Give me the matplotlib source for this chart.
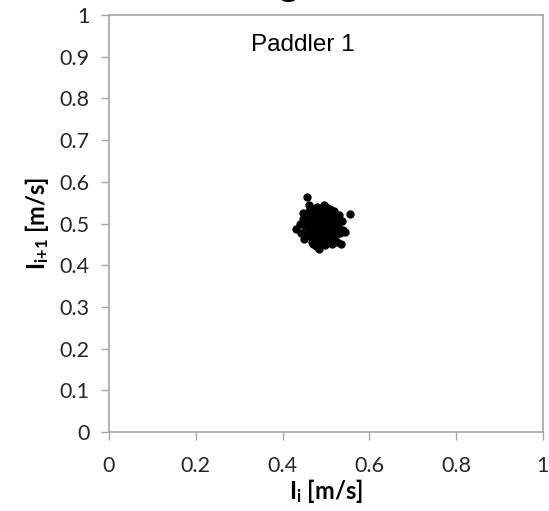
import numpy as np
import matplotlib
matplotlib.use("Agg")
import matplotlib.pyplot as plt

plt.rcParams['mathtext.fontset'] = 'custom'
plt.rcParams['mathtext.rm'] = 'Lato'
plt.rcParams['mathtext.bf'] = 'Lato:bold'
plt.rcParams['mathtext.it'] = 'Lato:italic'

# successive paddle speeds
speed_i = [0.457, 0.555, 0.432, 0.440, 0.442, 0.447, 0.450, 0.452, 0.455, 0.456,
           0.460, 0.461, 0.463, 0.465, 0.466, 0.468, 0.470, 0.471, 0.472, 0.474,
           0.475, 0.476, 0.478, 0.479, 0.480, 0.481, 0.482, 0.484, 0.485, 0.486,
           0.487, 0.488, 0.489, 0.490, 0.491, 0.492, 0.493, 0.494, 0.495, 0.496,
           0.497, 0.498, 0.499, 0.500, 0.501, 0.502, 0.503, 0.504, 0.505, 0.506,
           0.507, 0.508, 0.509, 0.510, 0.511, 0.512, 0.514, 0.515, 0.516, 0.518,
           0.519, 0.520, 0.522, 0.523, 0.525, 0.526, 0.528, 0.530, 0.532, 0.535,
           0.538, 0.540, 0.544, 0.470, 0.485, 0.500, 0.448, 0.462, 0.478, 0.495]
speed_next = [0.564, 0.523, 0.487, 0.500, 0.478, 0.512, 0.462, 0.495, 0.520, 0.478,
              0.505, 0.530, 0.470, 0.490, 0.515, 0.455, 0.500, 0.535, 0.482, 0.522,
              0.462, 0.508, 0.445, 0.492, 0.540, 0.515, 0.470, 0.500, 0.528, 0.485,
              0.455, 0.510, 0.495, 0.538, 0.476, 0.520, 0.505, 0.460, 0.490, 0.530,
              0.512, 0.448, 0.482, 0.500, 0.540, 0.470, 0.518, 0.492, 0.527, 0.458,
              0.505, 0.480, 0.535, 0.512, 0.465, 0.495, 0.522, 0.452, 0.488, 0.508,
              0.530, 0.470, 0.500, 0.515, 0.482, 0.455, 0.495, 0.520, 0.478, 0.450,
              0.505, 0.485, 0.480, 0.450, 0.440, 0.455, 0.525, 0.545, 0.528, 0.545]

xticks = [0, 0.2, 0.4, 0.6, 0.8, 1]
xtick_labels = ['0', '0.2', '0.4', '0.6', '0.8', '1']
yticks = [0, 0.1, 0.2, 0.3, 0.4, 0.5, 0.6, 0.7, 0.8, 0.9, 1]
ytick_labels = ['0', '0.1', '0.2', '0.3', '0.4', '0.5', '0.6', '0.7', '0.8', '0.9', '1']

fig = plt.figure(figsize=(5.49, 5.11), dpi=100)
ax = fig.add_axes([0.1985, 0.1546, 0.7905, 0.816])

ax.scatter(speed_i, speed_next, s=36, color='black', linewidths=0, zorder=3)

ax.set_xlim(0, 1)
ax.set_ylim(0, 1)
ax.set_xticks(xticks)
ax.set_xticklabels(xtick_labels)
ax.set_yticks(yticks)
ax.set_yticklabels(ytick_labels)

for sp in ax.spines.values():
    sp.set_color('#a6a6a6')
    sp.set_linewidth(1.2)
ax.tick_params(direction='out', length=6, width=1, color='#a6a6a6',
               labelsize=15.5, labelcolor='#262626')
for lab in ax.get_xticklabels() + ax.get_yticklabels():
    lab.set_fontfamily('Lato')
ax.tick_params(axis='x', pad=11)
ax.tick_params(axis='y', pad=8)

ax.set_xlabel(r'$\mathbf{I_{i}}$ [m/s]', fontsize=17, fontweight='bold',
              fontfamily='Lato', labelpad=1)
ax.set_ylabel(r'$\mathbf{I_{i{+}1}}$ [m/s]', fontsize=17, fontweight='bold',
              fontfamily='Lato', labelpad=6)

ax.text(0.447, 0.928, 'Paddler 1', fontsize=17.5, fontfamily='Liberation Sans',
        ha='center', va='center')

# bottom of a title cut off by the crop
fig.text(0.525, 1.012, 'g', fontsize=28, fontweight='bold',
         fontfamily='Liberation Sans', ha='center', va='baseline')

fig.savefig('out.png', dpi=100)
